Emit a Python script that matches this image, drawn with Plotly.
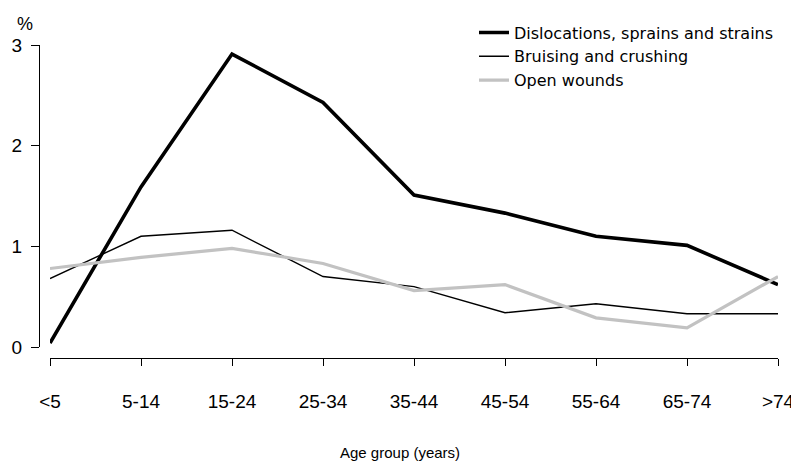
import plotly.graph_objects as go

age_groups = ["<5", "5-14", "15-24", "25-34", "35-44", "45-54", "55-64", "65-74", ">74"]
dislocations = [0.04, 1.59, 2.91, 2.43, 1.51, 1.33, 1.10, 1.01, 0.62]
bruising = [0.68, 1.10, 1.16, 0.70, 0.60, 0.34, 0.43, 0.33, 0.33]
open_wounds = [0.78, 0.89, 0.98, 0.83, 0.56, 0.62, 0.29, 0.19, 0.70]
y_ticks = [0, 1, 2, 3]

FONT = "Liberation Sans, Arial, sans-serif"
LEG_FONT = "DejaVu Sans, Liberation Sans, sans-serif"
OFF = 8  # page body margin in the browser
W, H = 799 - OFF, 461 - OFF
# window-pixel layout, converted to figure pixels by subtracting OFF
y_axis_x = 39 - OFF
x_first = 50 - OFF
x_last = 778 - OFF
y_top = 44.5 - OFF
y_zero = 347 - OFF
x_axis_y = 358 - OFF

L = y_axis_x
R = W - x_last
T = y_top
B = H - x_axis_y
pw = W - L - R
ph = H - T - B


def px_x(x):
    return (x - OFF - L) / pw


def px_y(y):
    return 1 + (T - (y - OFF)) / ph


fig = go.Figure()
fig.add_trace(go.Scatter(x=list(range(len(age_groups))), y=dislocations, mode="lines",
                         name="Dislocations, sprains and strains",
                         line=dict(color="#000000", width=3.6)))
fig.add_trace(go.Scatter(x=list(range(len(age_groups))), y=bruising, mode="lines",
                         name="Bruising and crushing",
                         line=dict(color="#000000", width=1.4)))
fig.add_trace(go.Scatter(x=list(range(len(age_groups))), y=open_wounds, mode="lines",
                         name="Open wounds",
                         line=dict(color="#c2c2c2", width=3.2)))

fig.update_layout(
    width=W, height=H,
    margin=dict(l=L, r=R, t=T, b=B, autoexpand=False),
    paper_bgcolor="white", plot_bgcolor="white",
    font=dict(family=FONT, color="#000000", size=18),
    showlegend=True,
    legend=dict(x=px_x(474), xanchor="left", y=px_y(15), yanchor="top",
                font=dict(size=16, family=LEG_FONT), bgcolor="rgba(0,0,0,0)",
                tracegroupgap=0, itemwidth=30),
    xaxis=dict(
        domain=[(x_first - L) / pw, 1], range=[0, len(age_groups) - 1],
        tickmode="array", tickvals=list(range(len(age_groups))), ticktext=age_groups,
        showline=True, linecolor="#000000", linewidth=1,
        ticks="outside", ticklen=7, tickwidth=1, tickcolor="#000000",
        showgrid=False, zeroline=False, anchor="free", position=0,
        tickfont=dict(size=19, family=FONT), ticklabelstandoff=19,
        automargin=False, fixedrange=True,
    ),
    yaxis=dict(
        domain=[(x_axis_y - y_zero) / ph, 1],
        range=[0, 3], tickvals=y_ticks,
        showline=True, linecolor="#000000", linewidth=1,
        ticks="outside", ticklen=8, tickwidth=1, tickcolor="#000000",
        showgrid=False, zeroline=False, anchor="free", position=0,
        tickfont=dict(size=19, family=FONT), ticklabelstandoff=5,
        automargin=False, fixedrange=True,
    ),
    annotations=[
        dict(text="%", xref="paper", yref="paper",
             x=px_x(25), y=px_y(23), xanchor="center", yanchor="middle",
             showarrow=False, font=dict(size=18, family=FONT)),
        dict(text="Age group (years)", xref="paper", yref="paper",
             x=px_x(400), y=px_y(453), xanchor="center", yanchor="middle",
             showarrow=False, font=dict(size=15, family=FONT)),
    ],
)

fig.write_html("out.html")
